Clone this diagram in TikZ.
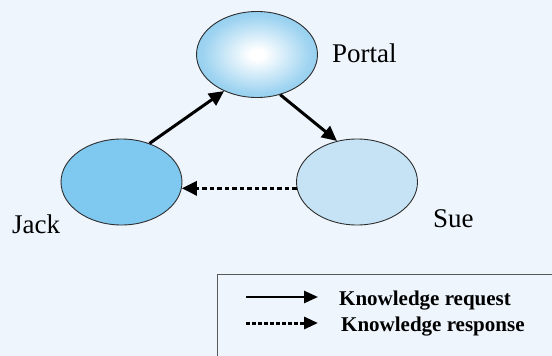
\documentclass[tikz,border=0pt]{standalone}
\usepackage{fontspec}
\setmainfont{Liberation Serif}
\usetikzlibrary{shapes.geometric,arrows.meta}
\definecolor{bgc}{HTML}{EEF5FC}
\definecolor{portalout}{HTML}{55B4E6}
\definecolor{portalmid}{HTML}{9FD4F1}
\definecolor{jackfill}{HTML}{7FC8F0}
\definecolor{suefill}{HTML}{C6E3F6}
\definecolor{edgec}{HTML}{2E2E2E}
\pgfdeclareradialshading{portalshade}{\pgfpointorigin}{color(0bp)=(white); color(3bp)=(white); color(22bp)=(portalmid); color(46bp)=(portalout); color(75bp)=(portalout)}
\tikzset{
  blob/.style={ellipse, draw=edgec, line width=0.9pt, minimum width=121pt, minimum height=86pt, inner sep=0pt},
  lbl/.style={anchor=base west, inner sep=0pt, font=\fontsize{27}{30}\selectfont},
  leg/.style={anchor=base west, inner sep=0pt, font=\fontsize{21}{24}\selectfont\bfseries},
  req/.style={line width=3pt, -{Triangle[length=15pt,width=14pt]}},
  resp/.style={line width=3pt, dash pattern=on 4.5pt off 3pt, -{Triangle[length=15pt,width=14pt]}},
  legreq/.style={line width=2.6pt, -{Triangle[length=14pt,width=12pt]}},
  legresp/.style={line width=3pt, dash pattern=on 3.5pt off 2.5pt, -{Triangle[length=14pt,width=12pt]}}
}
\begin{document}
\begin{tikzpicture}[x=1pt,y=-1pt]
\useasboundingbox (0,0) rectangle (552,356);
\fill[bgc] (0,0) rectangle (552,356);
% ellipses
\node[blob, shading=portalshade] (portal) at (257,54.5) {};
\node[blob, fill=jackfill] (jack) at (121.5,182) {};
\node[blob, fill=suefill] (sue) at (357,182) {};
% labels
\node[lbl] (tportal) at (332,62) {Portal};
\node[lbl] (tjack) at (12,233) {Jack};
\node[lbl] (tsue) at (433,227) {Sue};
% connectors
\draw[req] (jack.54) -- (portal.228);
\draw[req] (portal.300) -- (sue.116);
\draw[resp] (sue.186) -- (jack.354);
% legend
\draw[edgec!80, line width=0.8pt] (217,274) rectangle (560,370);
\coordinate (l1a) at (246,297);
\coordinate (l1b) at (318,297);
\coordinate (l2a) at (246,323);
\coordinate (l2b) at (318,323);
\draw[legreq] (l1a) -- (l1b);
\draw[legresp] (l2a) -- (l2b);
\node[leg] (t1) at (339,305) {Knowledge request};
\node[leg] (t2) at (341,331) {Knowledge response};
\end{tikzpicture}
\end{document}
